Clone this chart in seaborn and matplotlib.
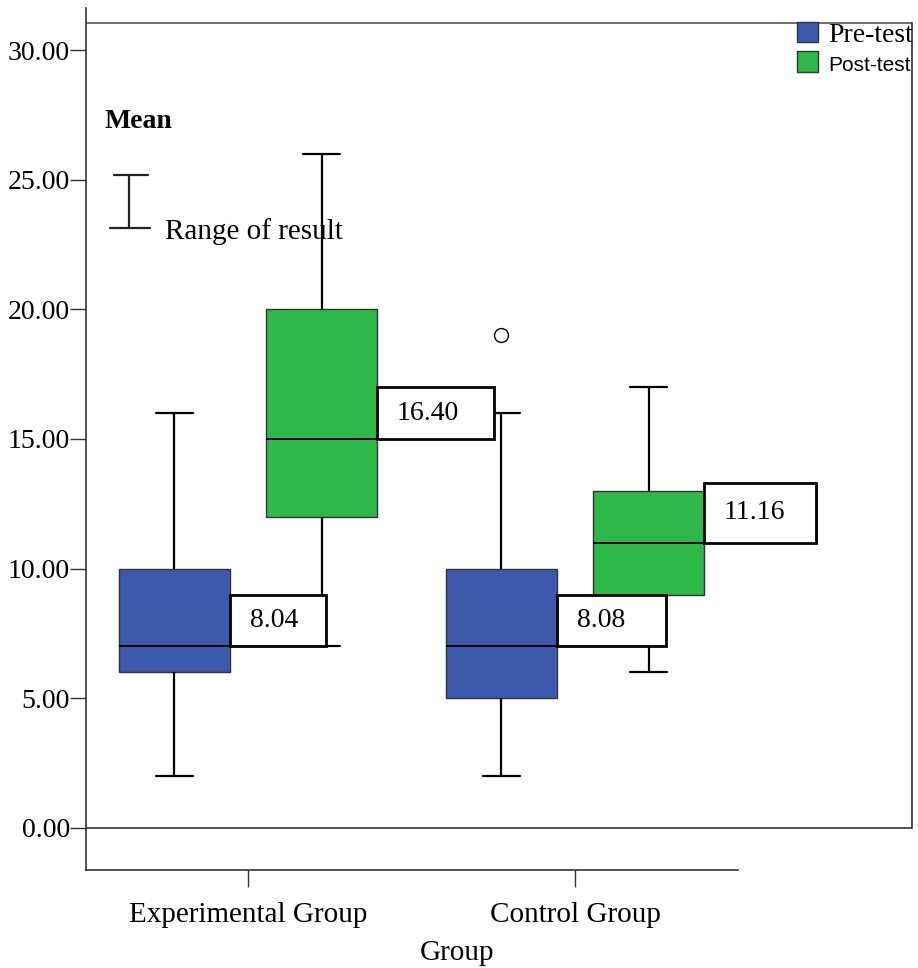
import pandas as pd
import matplotlib.pyplot as plt
import seaborn as sns
from matplotlib.patches import Rectangle

groups = ["Experimental Group", "Control Group"]
tests = ["Pre-test", "Post-test"]

exp_pre = [2, 3, 4, 5, 5, 6, 6, 6, 6, 7, 7, 7, 7, 8, 8, 9, 9, 10, 10, 10, 11, 12, 13, 14, 16]
exp_post = [7, 8, 9, 10, 11, 12, 12, 12, 13, 14, 14, 15, 15, 16, 17, 18, 19, 20, 20, 22, 23, 25, 26, 26, 26]
ctrl_pre = [2, 3, 4, 4, 5, 5, 5, 5, 6, 6, 7, 7, 7, 8, 8, 9, 9, 10, 10, 10, 11, 12, 14, 16, 19]
ctrl_post = [6, 7, 7, 8, 8, 9, 9, 9, 10, 10, 10, 11, 11, 11, 12, 12, 12, 13, 13, 13, 14, 15, 15, 17, 17]

yticks = [0, 5, 10, 15, 20, 25, 30]
colors = {"Pre-test": "#3d59ab", "Post-test": "#2eb84a"}

rows = []
for g, t, vals in [(groups[0], tests[0], exp_pre), (groups[0], tests[1], exp_post),
                   (groups[1], tests[0], ctrl_pre), (groups[1], tests[1], ctrl_post)]:
    for v in vals:
        rows.append({"Group": g, "Test": t, "Score": v})
df = pd.DataFrame(rows)

sns.set_style("white")
plt.rcParams["font.family"] = ["Liberation Serif", "DejaVu Serif"]
plt.rcParams["text.color"] = "black"
plt.rcParams["axes.labelcolor"] = "black"
plt.rcParams["xtick.color"] = "black"
plt.rcParams["ytick.color"] = "black"

fig = plt.figure(figsize=(9.18, 9.68), dpi=100)
ax = fig.add_axes([86 / 918, 1 - 870 / 968, 826 / 918, 862 / 968])

sns.boxplot(data=df, x="Group", y="Score", hue="Test", order=groups, hue_order=tests,
            palette=colors, saturation=1, width=0.9, gap=0.25, linewidth=1,
            linecolor="black", ax=ax, capwidths=0.115,
            boxprops=dict(edgecolor="#333333", linewidth=1),
            whiskerprops=dict(linewidth=1.6),
            capprops=dict(linewidth=1.6),
            medianprops=dict(linewidth=1.4),
            flierprops=dict(marker="o", markerfacecolor="white",
                            markeredgecolor="black", markersize=10, markeredgewidth=1))

ax.set_ylim(-1.62, 31.62)
ax.set_xlim(-0.4954, 2.0306)

# mean labels next to each box
offsets = {"Pre-test": -0.055, "Post-test": 0.395}
widths = {(0, "Pre-test"): 0.294, (0, "Post-test"): 0.358,
          (1, "Pre-test"): 0.333, (1, "Post-test"): 0.343}
heights = {(0, "Pre-test"): 2.0, (0, "Post-test"): 2.0,
           (1, "Pre-test"): 2.0, (1, "Post-test"): 2.3}
for i, g in enumerate(groups):
    for t in tests:
        sub = df[(df["Group"] == g) & (df["Test"] == t)]["Score"]
        med = sub.median()
        x0 = i + offsets[t]
        w = widths[(i, t)]
        h = heights[(i, t)]
        ax.add_patch(Rectangle((x0, med), w, h, facecolor="white", edgecolor="black",
                               linewidth=2, zorder=5))
        ax.text(x0 + 0.061, med + h / 2, f"{sub.mean():.2f}", fontsize=20,
                va="center", ha="left", zorder=6)

# frame lines
ax.axhline(0, color="#333333", linewidth=1.2)
ax.axhline(31.05, color="#555555", linewidth=1.2)
ax.spines["top"].set_visible(False)
ax.spines["right"].set_bounds(0, 31.05)
ax.spines["bottom"].set_bounds(-0.4954, 1.5)
for s in ["left", "right", "bottom"]:
    ax.spines[s].set_color("#333333")
    ax.spines[s].set_linewidth(1.2)

ax.set_yticks(yticks)
ax.set_yticklabels([f"{v:.2f}" for v in yticks])
ax.tick_params(axis="y", direction="out", length=11.5, width=1, pad=0, labelsize=20,
               left=True, color="#333333")
ax.tick_params(axis="x", direction="out", length=12, width=1, pad=11, labelsize=21,
               bottom=True, color="#333333")
ax.set_xlabel("Group", fontsize=21)
ax.xaxis.set_label_coords(0.449, -0.081)
ax.set_ylabel("")

# key for mean / range
tr = ax.transAxes
ax.text(0.023, 0.868, "Mean", fontsize=20, fontweight="bold", va="center", ha="left",
        transform=tr)
ax.plot([0.052, 0.052], [0.745, 0.806], color="#222222", lw=1.6, transform=tr)
ax.plot([0.034, 0.075], [0.806, 0.806], color="#222222", lw=1.6, transform=tr)
ax.plot([0.029, 0.0775], [0.745, 0.745], color="#222222", lw=1.6, transform=tr)
ax.text(0.0956, 0.741, "Range of result", fontsize=21, va="center", ha="left",
        transform=tr)

handles, labels = ax.get_legend_handles_labels()
ax.get_legend().remove()
leg = ax.legend(handles, labels, loc="upper left", bbox_to_anchor=(797 / 918, 1 - 22 / 968),
                bbox_transform=fig.transFigure, frameon=False, fontsize=20,
                handlelength=0.75, handleheight=0.75, handletextpad=0.36,
                labelspacing=0.12, borderpad=0, borderaxespad=0)
leg.get_texts()[1].set_fontfamily("Liberation Sans")
leg.get_texts()[1].set_fontsize(15)

fig.savefig("out.png", dpi=100)
